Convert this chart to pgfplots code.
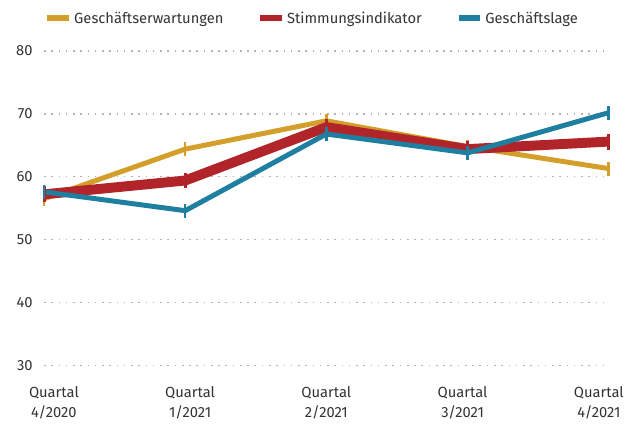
\documentclass[border={13pt 6pt 11pt 8pt}]{standalone}
\usepackage{fontspec}
\setmainfont{Fira Sans}
\usepackage{pgfplots}
\pgfplotsset{compat=1.18}

\definecolor{gelb}{HTML}{D39E2A}
\definecolor{rot}{HTML}{B0242A}
\definecolor{blau}{HTML}{1E7FA0}
\definecolor{txt}{HTML}{333333}

\begin{document}
\begin{tikzpicture}[font=\fontsize{14.8}{19.5}\selectfont, text=txt]
\begin{axis}[
    width=568pt, height=316pt,
    scale only axis,
    xmin=0, xmax=4,
    ymin=30, ymax=80,
    clip=false,
    axis line style={draw=none},
    major tick length=0pt,
    /pgf/number format/assume math mode=true,
    % labels sit a little inside the outer points, as in the source
    xtick={0.07,1.035,2,2.965,3.93},
    xticklabels={{Quartal\\4/2020},{Quartal\\1/2021},{Quartal\\2/2021},{Quartal\\3/2021},{Quartal\\4/2021}},
    xticklabel style={align=center, yshift=-18pt, text=txt},
    ytick={30,40,50,60,70,80},
    yticklabel style={xshift=-8pt, text=txt},
    ymajorgrids,
    grid style={gray!60, line width=1.2pt, dash pattern=on 1.6pt off 5.7pt},
    legend columns=3,
    legend style={draw=none, fill=none, at={(rel axis cs:-0.005,1.104)}, anchor=west,
        /tikz/every even column/.append style={column sep=32pt}, text=txt},
    legend image code/.code={\draw[#1, line width=6pt] (0pt,0pt) -- (22pt,0pt);},
]
\addplot[gelb, line width=5pt, mark=|, mark size=7pt, mark options={line width=2.5pt}]
    coordinates {(0,56.5) (1,64.4) (2,68.9) (3,64.8) (4,61.3)};
\addlegendentry{Geschäftserwartungen}
\addplot[rot, line width=10pt, mark=|, mark size=8pt, mark options={line width=3pt}]
    coordinates {(0,57.2) (1,59.4) (2,67.9) (3,64.4) (4,65.6)};
\addlegendentry{Stimmungsindikator}
\addplot[blau, line width=5pt, mark=|, mark size=7pt, mark options={line width=2.5pt}]
    coordinates {(0,57.6) (1,54.6) (2,66.8) (3,63.8) (4,70.2)};
\addlegendentry{Geschäftslage}
\end{axis}
\end{tikzpicture}
\end{document}
